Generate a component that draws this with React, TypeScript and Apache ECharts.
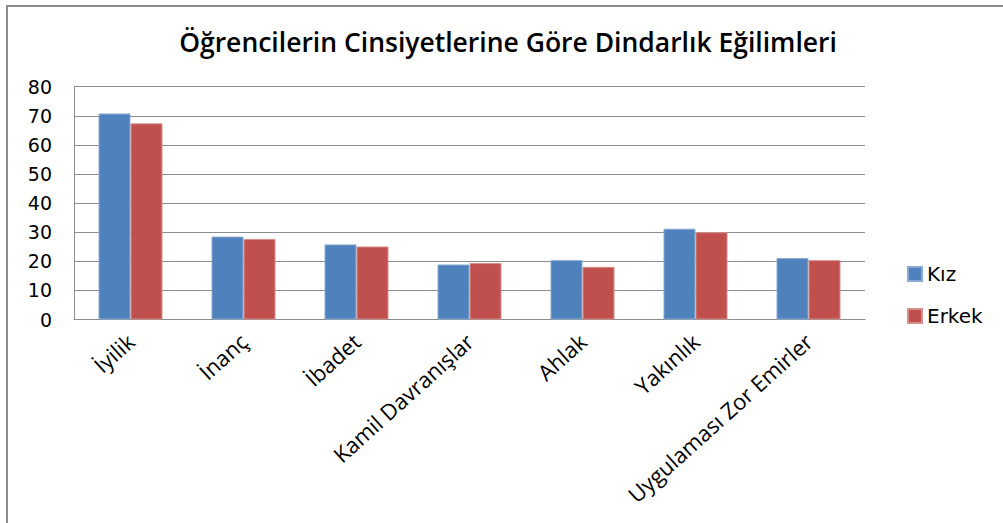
import React, { useEffect, useRef } from "react";
import * as echarts from "echarts";

const categories = [
  "İyilik",
  "İnanç",
  "İbadet",
  "Kamil Davranışlar",
  "Ahlak",
  "Yakınlık",
  "Uygulaması Zor Emirler",
];
const kiz = [70.8, 28.5, 25.8, 18.9, 20.4, 31.2, 21.1];
const erkek = [67.4, 27.7, 25.1, 19.4, 18.1, 30.0, 20.4];
const seriesNames = ["Kız", "Erkek"];
const titleText = "Öğrencilerin Cinsiyetlerine Göre Dindarlık Eğilimleri";

export default function App() {
  const ref = useRef<HTMLDivElement>(null);
  useEffect(() => {
    if (!ref.current) return;
    const chart = echarts.init(ref.current, null, { renderer: "svg" });
    const gray = "#8c8c8c";
    chart.setOption({
      animation: false,
      backgroundColor: "#ffffff",
      graphic: [
        {
          type: "rect",
          shape: { x: 7, y: 6, width: 1010, height: 530 },
          style: { fill: "none", stroke: gray, lineWidth: 2 },
          silent: true,
        },
        {
          type: "text",
          x: 508,
          y: 42,
          style: {
            text: titleText,
            fontFamily: "Open Sans",
            fontSize: 26.5,
            fontWeight: 600,
            fill: "#000000",
            textAlign: "center",
            textVerticalAlign: "middle",
          },
        },
      ],
      grid: { left: 74, right: 138, top: 86.7, bottom: 203.5 },
      legend: {
        orient: "vertical",
        left: 907,
        top: 264,
        padding: 0,
        itemWidth: 14,
        itemHeight: 14,
        itemGap: 22,
        icon: "rect",
        data: seriesNames,
        textStyle: {
          fontFamily: "DejaVu Sans",
          fontSize: 20,
          color: "#000000",
          lineHeight: 14,
        },
      },
      xAxis: {
        type: "category",
        data: categories,
        axisLine: { show: true, lineStyle: { color: gray, width: 1 } },
        axisTick: { show: false },
        axisLabel: {
          rotate: 42,
          interval: 0,
          margin: 18,
          fontFamily: "Open Sans",
          fontSize: 22,
          color: "#000000",
        },
      },
      yAxis: {
        type: "value",
        min: 0,
        max: 80,
        interval: 10,
        axisLine: { show: true, lineStyle: { color: gray, width: 1 } },
        axisTick: { show: false },
        splitLine: { show: true, lineStyle: { color: gray, width: 1 } },
        axisLabel: {
          margin: 22,
          fontFamily: "DejaVu Sans",
          fontSize: 19,
          color: "#000000",
        },
      },
      series: [
        {
          name: seriesNames[0],
          type: "bar",
          data: kiz,
          barWidth: 32,
          barGap: "0%",
          itemStyle: { color: "#4F81BD", borderColor: "#8aaad3", borderWidth: 1 },
        },
        {
          name: seriesNames[1],
          type: "bar",
          data: erkek,
          barWidth: 32,
          barGap: "0%",
          itemStyle: { color: "#C0504D", borderColor: "#d68f8d", borderWidth: 1 },
        },
      ],
    });
    return () => chart.dispose();
  }, []);
  return (
    <div
      ref={ref}
      style={{ position: "fixed", left: 0, top: 0, width: 1003, height: 523 }}
    />
  );
}
